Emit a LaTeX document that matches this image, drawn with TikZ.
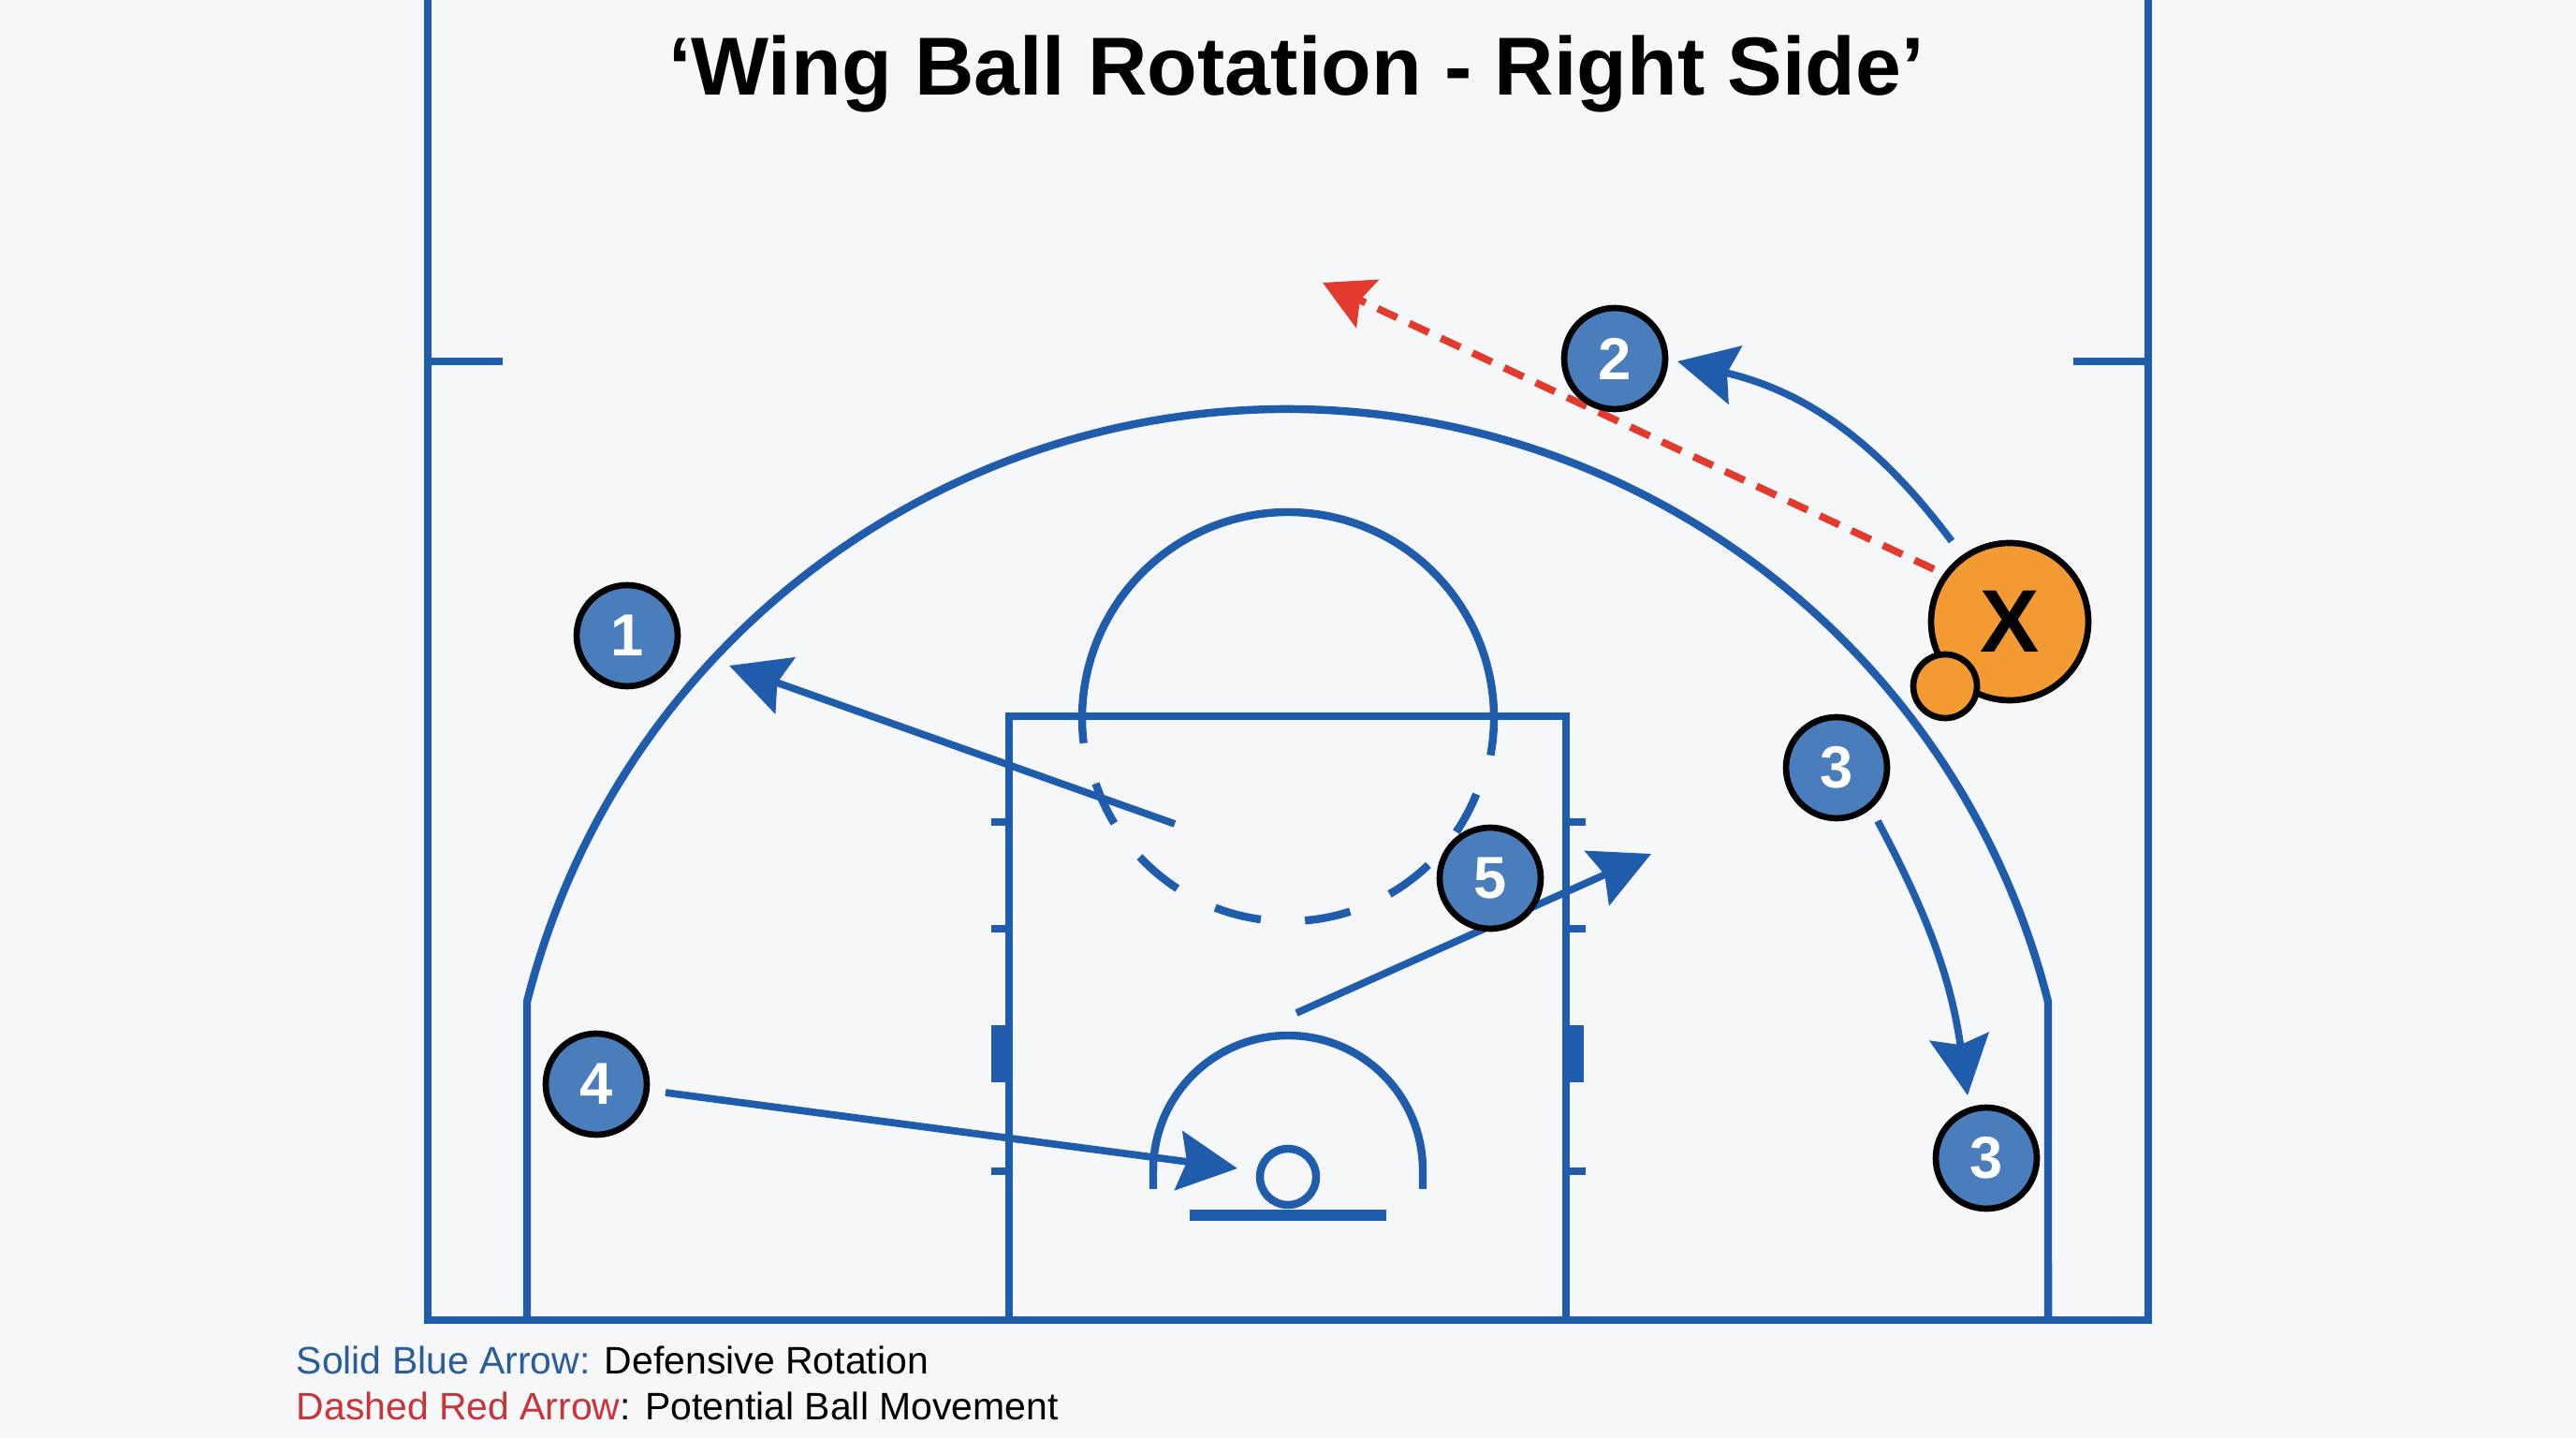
\documentclass[tikz,border=0pt]{standalone}
\usepackage{fontspec}
\setmainfont{Liberation Sans}
\usetikzlibrary{arrows.meta,positioning}

\definecolor{courtbg}{HTML}{F5F7F9}
\definecolor{courtblue}{HTML}{1F5CAB}
\definecolor{playerblue}{HTML}{4A7DBB}
\definecolor{ballorange}{HTML}{F39A32}
\definecolor{passred}{HTML}{E23B2E}
\definecolor{legendblue}{HTML}{2A5C99}
\definecolor{legendred}{HTML}{C9343A}

\tikzset{
    court/.style={draw=courtblue,line width=2.4pt},
    rotation/.style={draw=courtblue,line width=2.2pt,-{Stealth[length=18pt,width=18pt,inset=2.5pt]}},
    pass/.style={draw=passred,line width=2.2pt,dash pattern=on 6.5pt off 4.1pt,-{Stealth[length=15pt,width=16pt,inset=2.5pt]}},
    player/.style={circle,draw=black,line width=1.9pt,fill=playerblue,text=white,inner sep=0pt,minimum size=1.08cm,font=\fontsize{18}{18}\selectfont\bfseries},
}

\begin{document}
\begin{tikzpicture}

\useasboundingbox (0,0) rectangle (27.52,15.36);
\fill[courtbg] (0,0) rectangle (27.52,15.36);

\node[font=\fontsize{25}{25}\selectfont\bfseries] (title) at (13.85,14.57) {‘Wing Ball Rotation - Right Side’};

\coordinate (L1) at (3.16,0.83);
\node[anchor=west,inner sep=0pt,font=\fontsize{11.65}{11.65}\selectfont] (legendsolid) at (L1) {\textcolor{legendblue}{Solid Blue Arrow:} Defensive Rotation};
\coordinate (L2) at (3.16,0.34);
\node[anchor=west,inner sep=0pt,font=\fontsize{11.65}{11.65}\selectfont] (legenddashed) at (L2) {\textcolor{legendred}{Dashed Red Arrow}: Potential Ball Movement};

    \begin{scope} % Court lines
        \draw[court] (4.57,15.36) -- (4.57,1.26) -- (22.95,1.26) -- (22.95,15.36);
        \draw[court] (4.57,11.50) -- (5.37,11.50);
        \draw[court] (22.95,11.50) -- (22.15,11.50);
        \draw[court] (5.63,1.26) -- (5.63,4.66) arc (165.83:14.17:8.38) -- (21.88,1.26);
    \end{scope}

    \begin{scope} % Lane and its marks
        \draw[court] (10.78,1.26) -- (10.78,7.71) -- (16.73,7.71) -- (16.73,1.26);
        \draw[court] (10.59,6.58) -- (10.78,6.58);
        \draw[court] (10.59,5.44) -- (10.78,5.44);
        \draw[court] (10.59,2.85) -- (10.78,2.85);
        \draw[court] (16.73,6.58) -- (16.94,6.58);
        \draw[court] (16.73,5.44) -- (16.94,5.44);
        \draw[court] (16.73,2.85) -- (16.94,2.85);
        \fill[courtblue] (10.59,3.80) rectangle (10.78,4.41);
        \fill[courtblue] (16.73,3.80) rectangle (16.92,4.41);
    \end{scope}

    \begin{scope} % Free throw circle
        \draw[court] (13.76,7.69) ++(-10.4:2.2) arc (-10.4:187:2.2);
        \draw[court] (13.76,7.69) ++(198.8:2.17) arc (198.8:211.2:2.17);
        \draw[court] (13.76,7.69) ++(223.1:2.17) arc (223.1:237:2.17);
        \draw[court] (13.76,7.69) ++(249:2.17) arc (249:262.3:2.17);
        \draw[court] (13.76,7.69) ++(274.8:2.17) arc (274.8:287.8:2.17);
        \draw[court] (13.76,7.69) ++(300:2.17) arc (300:313.7:2.17);
        \draw[court] (13.76,7.69) ++(325.9:2.17) arc (325.9:338:2.17);
    \end{scope}

    \begin{scope} % Basket
        \draw[court] (12.32,2.66) -- (12.32,2.86) arc (180:0:1.44) -- (15.20,2.66);
        \draw[court] (13.76,2.79) circle (0.30);
        \draw[courtblue,line width=3.5pt] (12.71,2.38) -- (14.81,2.38);
    \end{scope}

\coordinate (r1s) at (12.55,6.56);
\coordinate (r1e) at (7.79,8.25);
\coordinate (r2s) at (20.85,9.58);
\coordinate (r2e) at (17.92,11.50);
\coordinate (r3s) at (20.06,6.59);
\coordinate (r3e) at (21.02,3.66);
\coordinate (r4s) at (7.11,3.69);
\coordinate (r4e) at (13.22,2.88);
\coordinate (r5s) at (13.85,4.54);
\coordinate (r5e) at (17.64,6.24);
\coordinate (b1s) at (20.66,9.28);
\coordinate (b1e) at (14.13,12.34);

    \begin{scope} % Rotations and the pass
        \draw[rotation] (r1s) -- (r1e);
        \draw[rotation] (r2s) to[bend right=20] (r2e);
        \draw[rotation] (r3s) to[bend left=10] (r3e);
        \draw[rotation] (r4s) -- (r4e);
        \draw[rotation] (r5s) -- (r5e);
        \draw[pass] (b1s) -- (b1e);
    \end{scope}

\node[player] (p1) at (6.70,8.57) {1};
\node[player] (p2) at (17.25,11.53) {2};
\node[player] (p3a) at (19.62,7.16) {3};
\node[player] (p3b) at (21.22,2.99) {3};
\node[player] (p4) at (6.37,3.78) {4};
\node[player] (p5) at (15.92,5.98) {5};

\node[circle,draw=black,line width=1.9pt,fill=ballorange,inner sep=0pt,minimum size=1.68cm,font=\fontsize{27}{27}\selectfont\bfseries] (xman) at (21.47,8.72) {X};
\node[circle,draw=black,line width=1.9pt,fill=ballorange,inner sep=0pt,minimum size=0.68cm] (ball) at (20.78,8.03) {};

\end{tikzpicture}
\end{document}
